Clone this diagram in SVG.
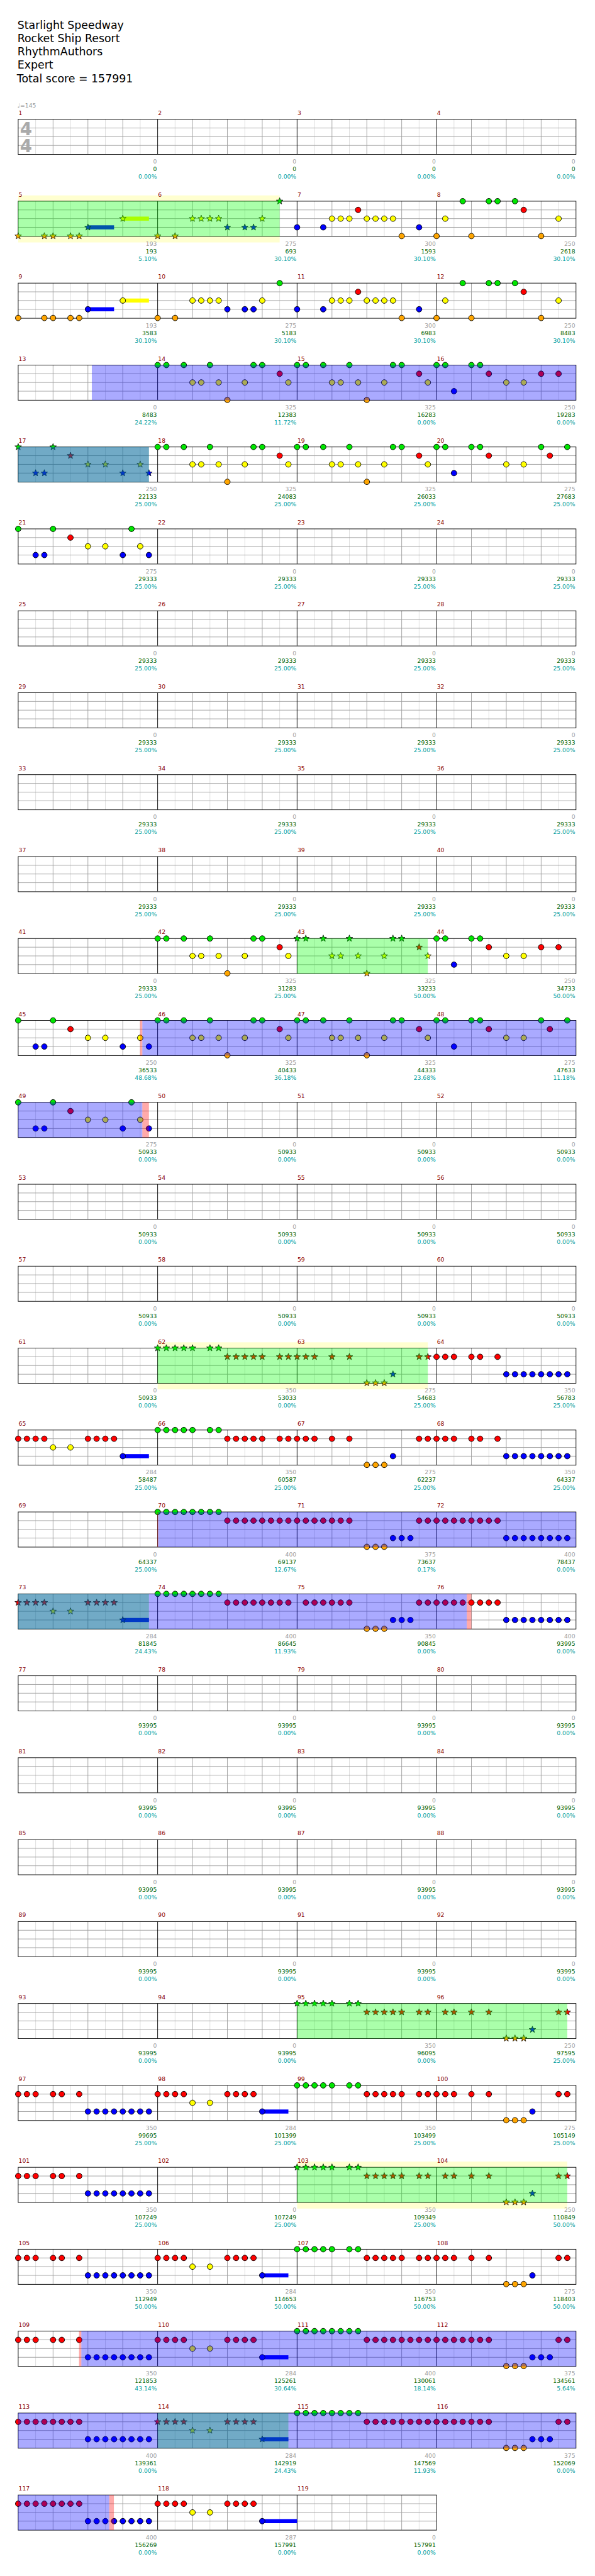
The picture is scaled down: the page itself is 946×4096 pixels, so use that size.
<svg xmlns="http://www.w3.org/2000/svg" xmlns:xlink="http://www.w3.org/1999/xlink" width="946" height="4096" viewBox="0 0 946 4096">
<style>
text{font-family:"DejaVu Sans","Liberation Sans",sans-serif}
.ti{font-size:18.8px;fill:#000}
.mn{font-size:10px;fill:#8b0000}
.st{font-size:10px;text-anchor:end}
.sa{fill:#a0a0a0}.sb{fill:#006400}.sc{fill:#00a0a0}
.tempo{font-size:10px;fill:#999}
.ts{font-size:30px;font-weight:bold;fill:#aaa}
.g{fill:#00e600}.r{fill:#f00}.y{fill:#ff0}.b{fill:#00f}.o{fill:#ffa500}
.og{fill:#0f0;fill-opacity:.333}.ob{fill:#00f;fill-opacity:.333}.or{fill:#f00;fill-opacity:.333}.band{fill:#ffffd0}
.lt{stroke:#dcdcdc;fill:none}.md{stroke:#a0a0a0;fill:none}.bk{stroke:#000;fill:none}
</style>
<defs>
<circle id="n" r="4.8" stroke="#000" stroke-width="1"/>
<path id="s" d="M0-6 1.47-2.02 5.71-1.85 2.38.77 3.53 4.85 0 2.5-3.53 4.85-2.38.77-5.71-1.85-1.47-2.02Z" stroke="#000" stroke-width=".8"/>
<g id="st4"><rect width="960" height="60.5" fill="#fff"/><path class="lt" d="M30 0V60M90 0V60M150 0V60M210 0V60M270 0V60M330 0V60M390 0V60M450 0V60M510 0V60M570 0V60M630 0V60M690 0V60M750 0V60M810 0V60M870 0V60M930 0V60"/><path class="md" d="M60 0V60M120 0V60M180 0V60M300 0V60M360 0V60M420 0V60M540 0V60M600 0V60M660 0V60M780 0V60M840 0V60M900 0V60M0 15H960M0 30H960M0 45H960"/><path class="bk" d="M240 0V60M480 0V60M720 0V60"/><rect width="960" height="60.5" fill="none" stroke="#000"/></g>
<g id="st3"><rect width="720" height="60.5" fill="#fff"/><path class="lt" d="M30 0V60M90 0V60M150 0V60M210 0V60M270 0V60M330 0V60M390 0V60M450 0V60M510 0V60M570 0V60M630 0V60M690 0V60"/><path class="md" d="M60 0V60M120 0V60M180 0V60M300 0V60M360 0V60M420 0V60M540 0V60M600 0V60M660 0V60M0 15H720M0 30H720M0 45H720"/><path class="bk" d="M240 0V60M480 0V60"/><rect width="720" height="60.5" fill="none" stroke="#000"/></g>

<g id="c5"><rect class="b" x="120" y="41.5" width="45" height="7"/><rect class="y" x="180" y="26.5" width="45" height="7"/><use href="#n" class="o" y="60"/><use href="#n" class="o" x="45" y="60"/><use href="#n" class="o" x="60" y="60"/><use href="#n" class="o" x="90" y="60"/><use href="#n" class="o" x="105" y="60"/><use href="#n" class="b" x="120" y="45"/><use href="#n" class="y" x="180" y="30"/></g>
<g id="s5"><rect class="b" x="120" y="41.5" width="45" height="7"/><rect class="y" x="180" y="26.5" width="45" height="7"/><use href="#s" class="o" y="60"/><use href="#s" class="o" x="45" y="60"/><use href="#s" class="o" x="60" y="60"/><use href="#s" class="o" x="90" y="60"/><use href="#s" class="o" x="105" y="60"/><use href="#s" class="b" x="120" y="45"/><use href="#s" class="y" x="180" y="30"/></g>
<g id="c6"><use href="#n" class="o" y="60"/><use href="#n" class="o" x="30" y="60"/><use href="#n" class="y" x="60" y="30"/><use href="#n" class="y" x="75" y="30"/><use href="#n" class="y" x="90" y="30"/><use href="#n" class="y" x="105" y="30"/><use href="#n" class="y" x="180" y="30"/><use href="#n" class="b" x="120" y="45"/><use href="#n" class="b" x="150" y="45"/><use href="#n" class="b" x="165" y="45"/><use href="#n" class="g" x="210"/></g>
<g id="s6"><use href="#s" class="o" y="60"/><use href="#s" class="o" x="30" y="60"/><use href="#s" class="y" x="60" y="30"/><use href="#s" class="y" x="75" y="30"/><use href="#s" class="y" x="90" y="30"/><use href="#s" class="y" x="105" y="30"/><use href="#s" class="y" x="180" y="30"/><use href="#s" class="b" x="120" y="45"/><use href="#s" class="b" x="150" y="45"/><use href="#s" class="b" x="165" y="45"/><use href="#s" class="g" x="210"/></g>
<g id="c7"><use href="#n" class="b" y="45"/><use href="#n" class="b" x="45" y="45"/><use href="#n" class="b" x="210" y="45"/><use href="#n" class="y" x="60" y="30"/><use href="#n" class="y" x="75" y="30"/><use href="#n" class="y" x="90" y="30"/><use href="#n" class="y" x="120" y="30"/><use href="#n" class="y" x="135" y="30"/><use href="#n" class="y" x="150" y="30"/><use href="#n" class="y" x="165" y="30"/><use href="#n" class="r" x="105" y="15"/><use href="#n" class="o" x="180" y="60"/></g>
<g id="c8"><use href="#n" class="o" y="60"/><use href="#n" class="o" x="60" y="60"/><use href="#n" class="o" x="180" y="60"/><use href="#n" class="y" x="15" y="30"/><use href="#n" class="y" x="210" y="30"/><use href="#n" class="g" x="45"/><use href="#n" class="g" x="90"/><use href="#n" class="g" x="105"/><use href="#n" class="g" x="135"/><use href="#n" class="r" x="150" y="15"/></g>
<g id="cA"><use href="#n" class="g"/><use href="#n" class="g" x="15"/><use href="#n" class="g" x="45"/><use href="#n" class="g" x="90"/><use href="#n" class="g" x="165"/><use href="#n" class="g" x="180"/><use href="#n" class="y" x="60" y="30"/><use href="#n" class="y" x="75" y="30"/><use href="#n" class="y" x="105" y="30"/><use href="#n" class="y" x="150" y="30"/><use href="#n" class="y" x="225" y="30"/><use href="#n" class="r" x="210" y="15"/><use href="#n" class="o" x="120" y="60"/></g>
<g id="sA"><use href="#s" class="g"/><use href="#s" class="g" x="15"/><use href="#s" class="g" x="45"/><use href="#s" class="g" x="90"/><use href="#s" class="g" x="165"/><use href="#s" class="g" x="180"/><use href="#s" class="y" x="60" y="30"/><use href="#s" class="y" x="75" y="30"/><use href="#s" class="y" x="105" y="30"/><use href="#s" class="y" x="150" y="30"/><use href="#s" class="y" x="225" y="30"/><use href="#s" class="r" x="210" y="15"/><use href="#s" class="o" x="120" y="60"/></g>
<g id="cC"><use href="#n" class="g"/><use href="#n" class="g" x="15"/><use href="#n" class="g" x="60"/><use href="#n" class="g" x="75"/><use href="#n" class="g" x="180"/><use href="#n" class="g" x="225"/><use href="#n" class="r" x="90" y="15"/><use href="#n" class="r" x="195" y="15"/><use href="#n" class="y" x="120" y="30"/><use href="#n" class="y" x="150" y="30"/><use href="#n" class="b" x="30" y="45"/></g>
<g id="cD"><use href="#n" class="g"/><use href="#n" class="g" x="15"/><use href="#n" class="g" x="60"/><use href="#n" class="g" x="75"/><use href="#n" class="r" x="90" y="15"/><use href="#n" class="r" x="180" y="15"/><use href="#n" class="r" x="210" y="15"/><use href="#n" class="y" x="120" y="30"/><use href="#n" class="y" x="150" y="30"/><use href="#n" class="b" x="30" y="45"/></g>
<g id="cE"><use href="#n" class="g"/><use href="#n" class="g" x="60"/><use href="#n" class="r" x="90" y="15"/><use href="#n" class="y" x="120" y="30"/><use href="#n" class="y" x="150" y="30"/><use href="#n" class="y" x="210" y="30"/><use href="#n" class="b" x="30" y="45"/><use href="#n" class="b" x="45" y="45"/><use href="#n" class="b" x="180" y="45"/><use href="#n" class="b" x="225" y="45"/></g>
<g id="cE2"><use href="#cE"/><use href="#n" class="g" x="195"/></g>
<g id="sE"><use href="#s" class="g"/><use href="#s" class="g" x="60"/><use href="#s" class="r" x="90" y="15"/><use href="#s" class="y" x="120" y="30"/><use href="#s" class="y" x="150" y="30"/><use href="#s" class="y" x="210" y="30"/><use href="#s" class="b" x="30" y="45"/><use href="#s" class="b" x="45" y="45"/><use href="#s" class="b" x="180" y="45"/><use href="#s" class="b" x="225" y="45"/></g>
<g id="cF"><use href="#n" class="g"/><use href="#n" class="g" x="15"/><use href="#n" class="g" x="30"/><use href="#n" class="g" x="45"/><use href="#n" class="g" x="60"/><use href="#n" class="g" x="90"/><use href="#n" class="g" x="105"/><use href="#n" class="r" x="120" y="15"/><use href="#n" class="r" x="135" y="15"/><use href="#n" class="r" x="150" y="15"/><use href="#n" class="r" x="165" y="15"/><use href="#n" class="r" x="180" y="15"/><use href="#n" class="r" x="210" y="15"/><use href="#n" class="r" x="225" y="15"/></g>
<g id="sF"><use href="#s" class="g"/><use href="#s" class="g" x="15"/><use href="#s" class="g" x="30"/><use href="#s" class="g" x="45"/><use href="#s" class="g" x="60"/><use href="#s" class="g" x="90"/><use href="#s" class="g" x="105"/><use href="#s" class="r" x="120" y="15"/><use href="#s" class="r" x="135" y="15"/><use href="#s" class="r" x="150" y="15"/><use href="#s" class="r" x="165" y="15"/><use href="#s" class="r" x="180" y="15"/><use href="#s" class="r" x="210" y="15"/><use href="#s" class="r" x="225" y="15"/></g>
<g id="cH"><use href="#n" class="r" y="15"/><use href="#n" class="r" x="15" y="15"/><use href="#n" class="r" x="30" y="15"/><use href="#n" class="r" x="60" y="15"/><use href="#n" class="r" x="90" y="15"/><use href="#n" class="r" x="210" y="15"/><use href="#n" class="r" x="225" y="15"/><use href="#n" class="o" x="120" y="60"/><use href="#n" class="o" x="135" y="60"/><use href="#n" class="o" x="150" y="60"/><use href="#n" class="b" x="165" y="45"/></g>
<g id="sH2"><use href="#s" class="r" x="15" y="15"/><use href="#s" class="r" x="30" y="15"/><use href="#s" class="r" x="60" y="15"/><use href="#s" class="r" x="90" y="15"/><use href="#s" class="r" x="210" y="15"/><use href="#s" class="r" x="225" y="15"/><use href="#s" class="o" x="120" y="60"/><use href="#s" class="o" x="135" y="60"/><use href="#s" class="o" x="150" y="60"/><use href="#s" class="b" x="165" y="45"/></g>
<g id="sH"><use href="#s" class="r" y="15"/><use href="#sH2"/></g>
<g id="cI"><use href="#n" class="r" y="15"/><use href="#n" class="r" x="15" y="15"/><use href="#n" class="r" x="30" y="15"/><use href="#n" class="r" x="60" y="15"/><use href="#n" class="r" x="75" y="15"/><use href="#n" class="r" x="105" y="15"/><use href="#n" class="b" x="120" y="45"/><use href="#n" class="b" x="135" y="45"/><use href="#n" class="b" x="150" y="45"/><use href="#n" class="b" x="165" y="45"/><use href="#n" class="b" x="180" y="45"/><use href="#n" class="b" x="195" y="45"/><use href="#n" class="b" x="210" y="45"/><use href="#n" class="b" x="225" y="45"/></g>
<g id="cJb"><use href="#n" class="r" y="15"/><use href="#n" class="r" x="15" y="15"/><use href="#n" class="r" x="30" y="15"/><use href="#n" class="r" x="45" y="15"/><use href="#n" class="r" x="120" y="15"/><use href="#n" class="r" x="135" y="15"/><use href="#n" class="r" x="150" y="15"/><use href="#n" class="r" x="165" y="15"/><use href="#n" class="y" x="60" y="30"/><use href="#n" class="y" x="90" y="30"/></g>
<g id="cJ"><use href="#cJb"/><rect class="b" x="180" y="41.5" width="45" height="7"/><use href="#n" class="b" x="180" y="45"/></g>
<g id="cJ2"><use href="#cJb"/><rect class="b" x="180" y="41.5" width="60" height="7"/><use href="#n" class="b" x="180" y="45"/></g>
<g id="sJ"><use href="#s" class="r" y="15"/><use href="#s" class="r" x="15" y="15"/><use href="#s" class="r" x="30" y="15"/><use href="#s" class="r" x="45" y="15"/><use href="#s" class="r" x="120" y="15"/><use href="#s" class="r" x="135" y="15"/><use href="#s" class="r" x="150" y="15"/><use href="#s" class="r" x="165" y="15"/><use href="#s" class="y" x="60" y="30"/><use href="#s" class="y" x="90" y="30"/><rect class="b" x="180" y="41.5" width="45" height="7"/><use href="#s" class="b" x="180" y="45"/></g>
<g id="cK"><use href="#n" class="g"/><use href="#n" class="g" x="15"/><use href="#n" class="g" x="30"/><use href="#n" class="g" x="45"/><use href="#n" class="g" x="60"/><use href="#n" class="g" x="75"/><use href="#n" class="g" x="90"/><use href="#n" class="g" x="105"/><use href="#n" class="r" x="120" y="15"/><use href="#n" class="r" x="135" y="15"/><use href="#n" class="r" x="150" y="15"/><use href="#n" class="r" x="165" y="15"/><use href="#n" class="r" x="180" y="15"/><use href="#n" class="r" x="195" y="15"/><use href="#n" class="r" x="210" y="15"/><use href="#n" class="r" x="225" y="15"/></g>
<g id="cN2"><use href="#n" class="r" x="15" y="15"/><use href="#n" class="r" x="30" y="15"/><use href="#n" class="r" x="45" y="15"/><use href="#n" class="r" x="60" y="15"/><use href="#n" class="r" x="75" y="15"/><use href="#n" class="r" x="90" y="15"/><use href="#n" class="r" x="210" y="15"/><use href="#n" class="r" x="225" y="15"/><use href="#n" class="o" x="120" y="60"/><use href="#n" class="o" x="135" y="60"/><use href="#n" class="o" x="150" y="60"/><use href="#n" class="b" x="165" y="45"/><use href="#n" class="b" x="180" y="45"/><use href="#n" class="b" x="195" y="45"/></g>
<g id="cN"><use href="#n" class="r" y="15"/><use href="#cN2"/></g>
<g id="cM"><use href="#n" class="r" y="15"/><use href="#n" class="r" x="15" y="15"/><use href="#n" class="r" x="30" y="15"/><use href="#n" class="r" x="45" y="15"/><use href="#n" class="r" x="60" y="15"/><use href="#n" class="r" x="75" y="15"/><use href="#n" class="r" x="90" y="15"/><use href="#n" class="r" x="105" y="15"/><use href="#n" class="b" x="120" y="45"/><use href="#n" class="b" x="135" y="45"/><use href="#n" class="b" x="150" y="45"/><use href="#n" class="b" x="165" y="45"/><use href="#n" class="b" x="180" y="45"/><use href="#n" class="b" x="195" y="45"/><use href="#n" class="b" x="210" y="45"/><use href="#n" class="b" x="225" y="45"/></g>
</defs>
<rect width="946" height="4096" fill="#fff"/>
<g transform="scale(0.92383)">
<g id="title" class="ti"><text x="30" y="49.3">Starlight Speedway</text><text x="30" y="72.3">Rocket Ship Resort</text><text x="30" y="95.3">RhythmAuthors</text><text x="30" y="118.3">Expert</text><text x="29" y="141.3">Total score = 157991</text></g>

<g id="row1" transform="translate(0,205.3)"><use href="#st4" x="31.3"/>
<text class="tempo" x="30" y="-20">♩=145</text><text class="ts" x="34.5" y="27">4</text><text class="ts" x="34.5" y="57">4</text>
<g class="mn"><text x="32" y="-7.5">1</text><text x="272" y="-7.5">2</text><text x="512" y="-7.5">3</text><text x="752" y="-7.5">4</text></g>
<g class="st"><text class="sa" x="270" y="76.5">0</text><text class="sb" x="270" y="89.5">0</text><text class="sc" x="270" y="102.5">0.00%</text><text class="sa" x="510" y="76.5">0</text><text class="sb" x="510" y="89.5">0</text><text class="sc" x="510" y="102.5">0.00%</text><text class="sa" x="750" y="76.5">0</text><text class="sb" x="750" y="89.5">0</text><text class="sc" x="750" y="102.5">0.00%</text><text class="sa" x="990" y="76.5">0</text><text class="sb" x="990" y="89.5">0</text><text class="sc" x="990" y="102.5">0.00%</text></g></g>

<g id="row2" transform="translate(0,346.3)"><rect class="band" x="31.3" y="-10" width="450" height="81"/><use href="#st4" x="31.3"/>
<use href="#s5" x="31.3"/><use href="#s6" x="271.3"/><use href="#c7" x="511.3"/><use href="#c8" x="751.3"/>
<rect class="og" x="31.3" width="450" height="60.5"/>
<g class="mn"><text x="32" y="-7.5">5</text><text x="272" y="-7.5">6</text><text x="512" y="-7.5">7</text><text x="752" y="-7.5">8</text></g>
<g class="st"><text class="sa" x="270" y="76.5">193</text><text class="sb" x="270" y="89.5">193</text><text class="sc" x="270" y="102.5">5.10%</text><text class="sa" x="510" y="76.5">275</text><text class="sb" x="510" y="89.5">693</text><text class="sc" x="510" y="102.5">30.10%</text><text class="sa" x="750" y="76.5">300</text><text class="sb" x="750" y="89.5">1593</text><text class="sc" x="750" y="102.5">30.10%</text><text class="sa" x="990" y="76.5">250</text><text class="sb" x="990" y="89.5">2618</text><text class="sc" x="990" y="102.5">30.10%</text></g></g>

<g id="row3" transform="translate(0,487.3)"><use href="#st4" x="31.3"/>
<use href="#c5" x="31.3"/><use href="#c6" x="271.3"/><use href="#c7" x="511.3"/><use href="#c8" x="751.3"/>
<g class="mn"><text x="32" y="-7.5">9</text><text x="272" y="-7.5">10</text><text x="512" y="-7.5">11</text><text x="752" y="-7.5">12</text></g>
<g class="st"><text class="sa" x="270" y="76.5">193</text><text class="sb" x="270" y="89.5">3583</text><text class="sc" x="270" y="102.5">30.10%</text><text class="sa" x="510" y="76.5">275</text><text class="sb" x="510" y="89.5">5183</text><text class="sc" x="510" y="102.5">30.10%</text><text class="sa" x="750" y="76.5">300</text><text class="sb" x="750" y="89.5">6983</text><text class="sc" x="750" y="102.5">30.10%</text><text class="sa" x="990" y="76.5">250</text><text class="sb" x="990" y="89.5">8483</text><text class="sc" x="990" y="102.5">30.10%</text></g></g>

<g id="row4" transform="translate(0,628.3)"><use href="#st4" x="31.3"/>
<use href="#cA" x="271.3"/><use href="#cA" x="511.3"/><use href="#cD" x="751.3"/>
<rect class="ob" x="158" width="833.3" height="60.5"/>
<g class="mn"><text x="32" y="-7.5">13</text><text x="272" y="-7.5">14</text><text x="512" y="-7.5">15</text><text x="752" y="-7.5">16</text></g>
<g class="st"><text class="sa" x="270" y="76.5">0</text><text class="sb" x="270" y="89.5">8483</text><text class="sc" x="270" y="102.5">24.22%</text><text class="sa" x="510" y="76.5">325</text><text class="sb" x="510" y="89.5">12383</text><text class="sc" x="510" y="102.5">11.72%</text><text class="sa" x="750" y="76.5">325</text><text class="sb" x="750" y="89.5">16283</text><text class="sc" x="750" y="102.5">0.00%</text><text class="sa" x="990" y="76.5">250</text><text class="sb" x="990" y="89.5">19283</text><text class="sc" x="990" y="102.5">0.00%</text></g></g>

<g id="row5" transform="translate(0,769.3)"><use href="#st4" x="31.3"/>
<use href="#sE" x="31.3"/><use href="#cA" x="271.3"/><use href="#cA" x="511.3"/><use href="#cC" x="751.3"/>
<rect class="og" x="31.3" width="225" height="60.5"/><rect class="ob" x="31.3" width="225" height="60.5"/>
<g class="mn"><text x="32" y="-7.5">17</text><text x="272" y="-7.5">18</text><text x="512" y="-7.5">19</text><text x="752" y="-7.5">20</text></g>
<g class="st"><text class="sa" x="270" y="76.5">250</text><text class="sb" x="270" y="89.5">22133</text><text class="sc" x="270" y="102.5">25.00%</text><text class="sa" x="510" y="76.5">325</text><text class="sb" x="510" y="89.5">24083</text><text class="sc" x="510" y="102.5">25.00%</text><text class="sa" x="750" y="76.5">325</text><text class="sb" x="750" y="89.5">26033</text><text class="sc" x="750" y="102.5">25.00%</text><text class="sa" x="990" y="76.5">275</text><text class="sb" x="990" y="89.5">27683</text><text class="sc" x="990" y="102.5">25.00%</text></g></g>

<g id="row6" transform="translate(0,910.3)"><use href="#st4" x="31.3"/>
<use href="#cE2" x="31.3"/>
<g class="mn"><text x="32" y="-7.5">21</text><text x="272" y="-7.5">22</text><text x="512" y="-7.5">23</text><text x="752" y="-7.5">24</text></g>
<g class="st"><text class="sa" x="270" y="76.5">275</text><text class="sb" x="270" y="89.5">29333</text><text class="sc" x="270" y="102.5">25.00%</text><text class="sa" x="510" y="76.5">0</text><text class="sb" x="510" y="89.5">29333</text><text class="sc" x="510" y="102.5">25.00%</text><text class="sa" x="750" y="76.5">0</text><text class="sb" x="750" y="89.5">29333</text><text class="sc" x="750" y="102.5">25.00%</text><text class="sa" x="990" y="76.5">0</text><text class="sb" x="990" y="89.5">29333</text><text class="sc" x="990" y="102.5">25.00%</text></g></g>

<g id="row7" transform="translate(0,1051.3)"><use href="#st4" x="31.3"/>
<g class="mn"><text x="32" y="-7.5">25</text><text x="272" y="-7.5">26</text><text x="512" y="-7.5">27</text><text x="752" y="-7.5">28</text></g>
<g class="st"><text class="sa" x="270" y="76.5">0</text><text class="sb" x="270" y="89.5">29333</text><text class="sc" x="270" y="102.5">25.00%</text><text class="sa" x="510" y="76.5">0</text><text class="sb" x="510" y="89.5">29333</text><text class="sc" x="510" y="102.5">25.00%</text><text class="sa" x="750" y="76.5">0</text><text class="sb" x="750" y="89.5">29333</text><text class="sc" x="750" y="102.5">25.00%</text><text class="sa" x="990" y="76.5">0</text><text class="sb" x="990" y="89.5">29333</text><text class="sc" x="990" y="102.5">25.00%</text></g></g>

<g id="row8" transform="translate(0,1192.3)"><use href="#st4" x="31.3"/>
<g class="mn"><text x="32" y="-7.5">29</text><text x="272" y="-7.5">30</text><text x="512" y="-7.5">31</text><text x="752" y="-7.5">32</text></g>
<g class="st"><text class="sa" x="270" y="76.5">0</text><text class="sb" x="270" y="89.5">29333</text><text class="sc" x="270" y="102.5">25.00%</text><text class="sa" x="510" y="76.5">0</text><text class="sb" x="510" y="89.5">29333</text><text class="sc" x="510" y="102.5">25.00%</text><text class="sa" x="750" y="76.5">0</text><text class="sb" x="750" y="89.5">29333</text><text class="sc" x="750" y="102.5">25.00%</text><text class="sa" x="990" y="76.5">0</text><text class="sb" x="990" y="89.5">29333</text><text class="sc" x="990" y="102.5">25.00%</text></g></g>

<g id="row9" transform="translate(0,1333.3)"><use href="#st4" x="31.3"/>
<g class="mn"><text x="32" y="-7.5">33</text><text x="272" y="-7.5">34</text><text x="512" y="-7.5">35</text><text x="752" y="-7.5">36</text></g>
<g class="st"><text class="sa" x="270" y="76.5">0</text><text class="sb" x="270" y="89.5">29333</text><text class="sc" x="270" y="102.5">25.00%</text><text class="sa" x="510" y="76.5">0</text><text class="sb" x="510" y="89.5">29333</text><text class="sc" x="510" y="102.5">25.00%</text><text class="sa" x="750" y="76.5">0</text><text class="sb" x="750" y="89.5">29333</text><text class="sc" x="750" y="102.5">25.00%</text><text class="sa" x="990" y="76.5">0</text><text class="sb" x="990" y="89.5">29333</text><text class="sc" x="990" y="102.5">25.00%</text></g></g>

<g id="row10" transform="translate(0,1474.3)"><use href="#st4" x="31.3"/>
<g class="mn"><text x="32" y="-7.5">37</text><text x="272" y="-7.5">38</text><text x="512" y="-7.5">39</text><text x="752" y="-7.5">40</text></g>
<g class="st"><text class="sa" x="270" y="76.5">0</text><text class="sb" x="270" y="89.5">29333</text><text class="sc" x="270" y="102.5">25.00%</text><text class="sa" x="510" y="76.5">0</text><text class="sb" x="510" y="89.5">29333</text><text class="sc" x="510" y="102.5">25.00%</text><text class="sa" x="750" y="76.5">0</text><text class="sb" x="750" y="89.5">29333</text><text class="sc" x="750" y="102.5">25.00%</text><text class="sa" x="990" y="76.5">0</text><text class="sb" x="990" y="89.5">29333</text><text class="sc" x="990" y="102.5">25.00%</text></g></g>

<g id="row11" transform="translate(0,1615.3)"><use href="#st4" x="31.3"/>
<use href="#cA" x="271.3"/><use href="#sA" x="511.3"/><use href="#cD" x="751.3"/>
<rect class="og" x="511.3" width="225" height="60.5"/>
<g class="mn"><text x="32" y="-7.5">41</text><text x="272" y="-7.5">42</text><text x="512" y="-7.5">43</text><text x="752" y="-7.5">44</text></g>
<g class="st"><text class="sa" x="270" y="76.5">0</text><text class="sb" x="270" y="89.5">29333</text><text class="sc" x="270" y="102.5">25.00%</text><text class="sa" x="510" y="76.5">325</text><text class="sb" x="510" y="89.5">31283</text><text class="sc" x="510" y="102.5">25.00%</text><text class="sa" x="750" y="76.5">325</text><text class="sb" x="750" y="89.5">33233</text><text class="sc" x="750" y="102.5">50.00%</text><text class="sa" x="990" y="76.5">250</text><text class="sb" x="990" y="89.5">34733</text><text class="sc" x="990" y="102.5">50.00%</text></g></g>

<g id="row12" transform="translate(0,1756.3)"><use href="#st4" x="31.3"/>
<use href="#cE" x="31.3"/><use href="#cA" x="271.3"/><use href="#cA" x="511.3"/><use href="#cC" x="751.3"/>
<rect class="or" x="241" width="4" height="60.5"/><rect class="ob" x="245" width="746.3" height="60.5"/>
<g class="mn"><text x="32" y="-7.5">45</text><text x="272" y="-7.5">46</text><text x="512" y="-7.5">47</text><text x="752" y="-7.5">48</text></g>
<g class="st"><text class="sa" x="270" y="76.5">250</text><text class="sb" x="270" y="89.5">36533</text><text class="sc" x="270" y="102.5">48.68%</text><text class="sa" x="510" y="76.5">325</text><text class="sb" x="510" y="89.5">40433</text><text class="sc" x="510" y="102.5">36.18%</text><text class="sa" x="750" y="76.5">325</text><text class="sb" x="750" y="89.5">44333</text><text class="sc" x="750" y="102.5">23.68%</text><text class="sa" x="990" y="76.5">275</text><text class="sb" x="990" y="89.5">47633</text><text class="sc" x="990" y="102.5">11.18%</text></g></g>

<g id="row13" transform="translate(0,1897.3)"><use href="#st4" x="31.3"/>
<use href="#cE2" x="31.3"/>
<rect class="ob" x="31.3" width="213.7" height="60.5"/><rect class="or" x="245" width="11.3" height="60.5"/>
<g class="mn"><text x="32" y="-7.5">49</text><text x="272" y="-7.5">50</text><text x="512" y="-7.5">51</text><text x="752" y="-7.5">52</text></g>
<g class="st"><text class="sa" x="270" y="76.5">275</text><text class="sb" x="270" y="89.5">50933</text><text class="sc" x="270" y="102.5">0.00%</text><text class="sa" x="510" y="76.5">0</text><text class="sb" x="510" y="89.5">50933</text><text class="sc" x="510" y="102.5">0.00%</text><text class="sa" x="750" y="76.5">0</text><text class="sb" x="750" y="89.5">50933</text><text class="sc" x="750" y="102.5">0.00%</text><text class="sa" x="990" y="76.5">0</text><text class="sb" x="990" y="89.5">50933</text><text class="sc" x="990" y="102.5">0.00%</text></g></g>

<g id="row14" transform="translate(0,2038.3)"><use href="#st4" x="31.3"/>
<g class="mn"><text x="32" y="-7.5">53</text><text x="272" y="-7.5">54</text><text x="512" y="-7.5">55</text><text x="752" y="-7.5">56</text></g>
<g class="st"><text class="sa" x="270" y="76.5">0</text><text class="sb" x="270" y="89.5">50933</text><text class="sc" x="270" y="102.5">0.00%</text><text class="sa" x="510" y="76.5">0</text><text class="sb" x="510" y="89.5">50933</text><text class="sc" x="510" y="102.5">0.00%</text><text class="sa" x="750" y="76.5">0</text><text class="sb" x="750" y="89.5">50933</text><text class="sc" x="750" y="102.5">0.00%</text><text class="sa" x="990" y="76.5">0</text><text class="sb" x="990" y="89.5">50933</text><text class="sc" x="990" y="102.5">0.00%</text></g></g>

<g id="row15" transform="translate(0,2179.3)"><use href="#st4" x="31.3"/>
<g class="mn"><text x="32" y="-7.5">57</text><text x="272" y="-7.5">58</text><text x="512" y="-7.5">59</text><text x="752" y="-7.5">60</text></g>
<g class="st"><text class="sa" x="270" y="76.5">0</text><text class="sb" x="270" y="89.5">50933</text><text class="sc" x="270" y="102.5">0.00%</text><text class="sa" x="510" y="76.5">0</text><text class="sb" x="510" y="89.5">50933</text><text class="sc" x="510" y="102.5">0.00%</text><text class="sa" x="750" y="76.5">0</text><text class="sb" x="750" y="89.5">50933</text><text class="sc" x="750" y="102.5">0.00%</text><text class="sa" x="990" y="76.5">0</text><text class="sb" x="990" y="89.5">50933</text><text class="sc" x="990" y="102.5">0.00%</text></g></g>

<g id="row16" transform="translate(0,2320.3)"><rect class="band" x="271.3" y="-10" width="465" height="81"/><use href="#st4" x="31.3"/>
<use href="#sF" x="271.3"/><use href="#sH" x="511.3"/><use href="#cI" x="751.3"/>
<rect class="og" x="271.3" width="465" height="60.5"/>
<g class="mn"><text x="32" y="-7.5">61</text><text x="272" y="-7.5">62</text><text x="512" y="-7.5">63</text><text x="752" y="-7.5">64</text></g>
<g class="st"><text class="sa" x="270" y="76.5">0</text><text class="sb" x="270" y="89.5">50933</text><text class="sc" x="270" y="102.5">0.00%</text><text class="sa" x="510" y="76.5">350</text><text class="sb" x="510" y="89.5">53033</text><text class="sc" x="510" y="102.5">0.00%</text><text class="sa" x="750" y="76.5">275</text><text class="sb" x="750" y="89.5">54683</text><text class="sc" x="750" y="102.5">25.00%</text><text class="sa" x="990" y="76.5">350</text><text class="sb" x="990" y="89.5">56783</text><text class="sc" x="990" y="102.5">25.00%</text></g></g>

<g id="row17" transform="translate(0,2461.3)"><use href="#st4" x="31.3"/>
<use href="#cJ" x="31.3"/><use href="#cF" x="271.3"/><use href="#cH" x="511.3"/><use href="#cI" x="751.3"/>
<g class="mn"><text x="32" y="-7.5">65</text><text x="272" y="-7.5">66</text><text x="512" y="-7.5">67</text><text x="752" y="-7.5">68</text></g>
<g class="st"><text class="sa" x="270" y="76.5">284</text><text class="sb" x="270" y="89.5">58487</text><text class="sc" x="270" y="102.5">25.00%</text><text class="sa" x="510" y="76.5">350</text><text class="sb" x="510" y="89.5">60587</text><text class="sc" x="510" y="102.5">25.00%</text><text class="sa" x="750" y="76.5">275</text><text class="sb" x="750" y="89.5">62237</text><text class="sc" x="750" y="102.5">25.00%</text><text class="sa" x="990" y="76.5">350</text><text class="sb" x="990" y="89.5">64337</text><text class="sc" x="990" y="102.5">25.00%</text></g></g>

<g id="row18" transform="translate(0,2602.3)"><use href="#st4" x="31.3"/>
<use href="#cK" x="271.3"/><use href="#cN" x="511.3"/><use href="#cM" x="751.3"/>
<rect class="or" x="270.8" width="1.5" height="60.5"/><rect class="ob" x="272.3" width="719" height="60.5"/>
<g class="mn"><text x="32" y="-7.5">69</text><text x="272" y="-7.5">70</text><text x="512" y="-7.5">71</text><text x="752" y="-7.5">72</text></g>
<g class="st"><text class="sa" x="270" y="76.5">0</text><text class="sb" x="270" y="89.5">64337</text><text class="sc" x="270" y="102.5">25.00%</text><text class="sa" x="510" y="76.5">400</text><text class="sb" x="510" y="89.5">69137</text><text class="sc" x="510" y="102.5">12.67%</text><text class="sa" x="750" y="76.5">375</text><text class="sb" x="750" y="89.5">73637</text><text class="sc" x="750" y="102.5">0.17%</text><text class="sa" x="990" y="76.5">400</text><text class="sb" x="990" y="89.5">78437</text><text class="sc" x="990" y="102.5">0.00%</text></g></g>

<g id="row19" transform="translate(0,2743.3)"><use href="#st4" x="31.3"/>
<use href="#sJ" x="31.3"/><use href="#cK" x="271.3"/><use href="#cN2" x="511.3"/><use href="#cM" x="751.3"/>
<rect class="og" x="31.3" width="225" height="60.5"/><rect class="ob" x="31.3" width="772" height="60.5"/><rect class="or" x="803.3" width="8" height="60.5"/>
<g class="mn"><text x="32" y="-7.5">73</text><text x="272" y="-7.5">74</text><text x="512" y="-7.5">75</text><text x="752" y="-7.5">76</text></g>
<g class="st"><text class="sa" x="270" y="76.5">284</text><text class="sb" x="270" y="89.5">81845</text><text class="sc" x="270" y="102.5">24.43%</text><text class="sa" x="510" y="76.5">400</text><text class="sb" x="510" y="89.5">86645</text><text class="sc" x="510" y="102.5">11.93%</text><text class="sa" x="750" y="76.5">350</text><text class="sb" x="750" y="89.5">90845</text><text class="sc" x="750" y="102.5">0.00%</text><text class="sa" x="990" y="76.5">400</text><text class="sb" x="990" y="89.5">93995</text><text class="sc" x="990" y="102.5">0.00%</text></g></g>

<g id="row20" transform="translate(0,2884.3)"><use href="#st4" x="31.3"/>
<g class="mn"><text x="32" y="-7.5">77</text><text x="272" y="-7.5">78</text><text x="512" y="-7.5">79</text><text x="752" y="-7.5">80</text></g>
<g class="st"><text class="sa" x="270" y="76.5">0</text><text class="sb" x="270" y="89.5">93995</text><text class="sc" x="270" y="102.5">0.00%</text><text class="sa" x="510" y="76.5">0</text><text class="sb" x="510" y="89.5">93995</text><text class="sc" x="510" y="102.5">0.00%</text><text class="sa" x="750" y="76.5">0</text><text class="sb" x="750" y="89.5">93995</text><text class="sc" x="750" y="102.5">0.00%</text><text class="sa" x="990" y="76.5">0</text><text class="sb" x="990" y="89.5">93995</text><text class="sc" x="990" y="102.5">0.00%</text></g></g>

<g id="row21" transform="translate(0,3025.3)"><use href="#st4" x="31.3"/>
<g class="mn"><text x="32" y="-7.5">81</text><text x="272" y="-7.5">82</text><text x="512" y="-7.5">83</text><text x="752" y="-7.5">84</text></g>
<g class="st"><text class="sa" x="270" y="76.5">0</text><text class="sb" x="270" y="89.5">93995</text><text class="sc" x="270" y="102.5">0.00%</text><text class="sa" x="510" y="76.5">0</text><text class="sb" x="510" y="89.5">93995</text><text class="sc" x="510" y="102.5">0.00%</text><text class="sa" x="750" y="76.5">0</text><text class="sb" x="750" y="89.5">93995</text><text class="sc" x="750" y="102.5">0.00%</text><text class="sa" x="990" y="76.5">0</text><text class="sb" x="990" y="89.5">93995</text><text class="sc" x="990" y="102.5">0.00%</text></g></g>

<g id="row22" transform="translate(0,3166.3)"><use href="#st4" x="31.3"/>
<g class="mn"><text x="32" y="-7.5">85</text><text x="272" y="-7.5">86</text><text x="512" y="-7.5">87</text><text x="752" y="-7.5">88</text></g>
<g class="st"><text class="sa" x="270" y="76.5">0</text><text class="sb" x="270" y="89.5">93995</text><text class="sc" x="270" y="102.5">0.00%</text><text class="sa" x="510" y="76.5">0</text><text class="sb" x="510" y="89.5">93995</text><text class="sc" x="510" y="102.5">0.00%</text><text class="sa" x="750" y="76.5">0</text><text class="sb" x="750" y="89.5">93995</text><text class="sc" x="750" y="102.5">0.00%</text><text class="sa" x="990" y="76.5">0</text><text class="sb" x="990" y="89.5">93995</text><text class="sc" x="990" y="102.5">0.00%</text></g></g>

<g id="row23" transform="translate(0,3307.3)"><use href="#st4" x="31.3"/>
<g class="mn"><text x="32" y="-7.5">89</text><text x="272" y="-7.5">90</text><text x="512" y="-7.5">91</text><text x="752" y="-7.5">92</text></g>
<g class="st"><text class="sa" x="270" y="76.5">0</text><text class="sb" x="270" y="89.5">93995</text><text class="sc" x="270" y="102.5">0.00%</text><text class="sa" x="510" y="76.5">0</text><text class="sb" x="510" y="89.5">93995</text><text class="sc" x="510" y="102.5">0.00%</text><text class="sa" x="750" y="76.5">0</text><text class="sb" x="750" y="89.5">93995</text><text class="sc" x="750" y="102.5">0.00%</text><text class="sa" x="990" y="76.5">0</text><text class="sb" x="990" y="89.5">93995</text><text class="sc" x="990" y="102.5">0.00%</text></g></g>

<g id="row24" transform="translate(0,3448.3)"><use href="#st4" x="31.3"/>
<use href="#sF" x="511.3"/><use href="#sH2" x="751.3"/>
<rect class="og" x="511.3" width="465" height="60.5"/>
<g class="mn"><text x="32" y="-7.5">93</text><text x="272" y="-7.5">94</text><text x="512" y="-7.5">95</text><text x="752" y="-7.5">96</text></g>
<g class="st"><text class="sa" x="270" y="76.5">0</text><text class="sb" x="270" y="89.5">93995</text><text class="sc" x="270" y="102.5">0.00%</text><text class="sa" x="510" y="76.5">0</text><text class="sb" x="510" y="89.5">93995</text><text class="sc" x="510" y="102.5">0.00%</text><text class="sa" x="750" y="76.5">350</text><text class="sb" x="750" y="89.5">96095</text><text class="sc" x="750" y="102.5">0.00%</text><text class="sa" x="990" y="76.5">250</text><text class="sb" x="990" y="89.5">97595</text><text class="sc" x="990" y="102.5">25.00%</text></g></g>

<g id="row25" transform="translate(0,3589.3)"><use href="#st4" x="31.3"/>
<use href="#cI" x="31.3"/><use href="#cJ" x="271.3"/><use href="#cF" x="511.3"/><use href="#cH" x="751.3"/>
<g class="mn"><text x="32" y="-7.5">97</text><text x="272" y="-7.5">98</text><text x="512" y="-7.5">99</text><text x="752" y="-7.5">100</text></g>
<g class="st"><text class="sa" x="270" y="76.5">350</text><text class="sb" x="270" y="89.5">99695</text><text class="sc" x="270" y="102.5">25.00%</text><text class="sa" x="510" y="76.5">284</text><text class="sb" x="510" y="89.5">101399</text><text class="sc" x="510" y="102.5">25.00%</text><text class="sa" x="750" y="76.5">350</text><text class="sb" x="750" y="89.5">103499</text><text class="sc" x="750" y="102.5">25.00%</text><text class="sa" x="990" y="76.5">275</text><text class="sb" x="990" y="89.5">105149</text><text class="sc" x="990" y="102.5">25.00%</text></g></g>

<g id="row26" transform="translate(0,3730.3)"><rect class="band" x="511.3" y="-10" width="465" height="81"/><use href="#st4" x="31.3"/>
<use href="#cI" x="31.3"/><use href="#sF" x="511.3"/><use href="#sH2" x="751.3"/>
<rect class="og" x="511.3" width="465" height="60.5"/>
<g class="mn"><text x="32" y="-7.5">101</text><text x="272" y="-7.5">102</text><text x="512" y="-7.5">103</text><text x="752" y="-7.5">104</text></g>
<g class="st"><text class="sa" x="270" y="76.5">350</text><text class="sb" x="270" y="89.5">107249</text><text class="sc" x="270" y="102.5">25.00%</text><text class="sa" x="510" y="76.5">0</text><text class="sb" x="510" y="89.5">107249</text><text class="sc" x="510" y="102.5">25.00%</text><text class="sa" x="750" y="76.5">350</text><text class="sb" x="750" y="89.5">109349</text><text class="sc" x="750" y="102.5">25.00%</text><text class="sa" x="990" y="76.5">250</text><text class="sb" x="990" y="89.5">110849</text><text class="sc" x="990" y="102.5">50.00%</text></g></g>

<g id="row27" transform="translate(0,3871.3)"><use href="#st4" x="31.3"/>
<use href="#cI" x="31.3"/><use href="#cJ" x="271.3"/><use href="#cF" x="511.3"/><use href="#cH" x="751.3"/>
<g class="mn"><text x="32" y="-7.5">105</text><text x="272" y="-7.5">106</text><text x="512" y="-7.5">107</text><text x="752" y="-7.5">108</text></g>
<g class="st"><text class="sa" x="270" y="76.5">350</text><text class="sb" x="270" y="89.5">112949</text><text class="sc" x="270" y="102.5">50.00%</text><text class="sa" x="510" y="76.5">284</text><text class="sb" x="510" y="89.5">114653</text><text class="sc" x="510" y="102.5">50.00%</text><text class="sa" x="750" y="76.5">350</text><text class="sb" x="750" y="89.5">116753</text><text class="sc" x="750" y="102.5">50.00%</text><text class="sa" x="990" y="76.5">275</text><text class="sb" x="990" y="89.5">118403</text><text class="sc" x="990" y="102.5">50.00%</text></g></g>

<g id="row28" transform="translate(0,4012.3)"><use href="#st4" x="31.3"/>
<use href="#cI" x="31.3"/><use href="#cJ" x="271.3"/><use href="#cK" x="511.3"/><use href="#cN" x="751.3"/>
<rect class="or" x="136" width="4" height="60.5"/><rect class="ob" x="140" width="851.3" height="60.5"/>
<g class="mn"><text x="32" y="-7.5">109</text><text x="272" y="-7.5">110</text><text x="512" y="-7.5">111</text><text x="752" y="-7.5">112</text></g>
<g class="st"><text class="sa" x="270" y="76.5">350</text><text class="sb" x="270" y="89.5">121853</text><text class="sc" x="270" y="102.5">43.14%</text><text class="sa" x="510" y="76.5">284</text><text class="sb" x="510" y="89.5">125261</text><text class="sc" x="510" y="102.5">30.64%</text><text class="sa" x="750" y="76.5">400</text><text class="sb" x="750" y="89.5">130061</text><text class="sc" x="750" y="102.5">18.14%</text><text class="sa" x="990" y="76.5">375</text><text class="sb" x="990" y="89.5">134561</text><text class="sc" x="990" y="102.5">5.64%</text></g></g>

<g id="row29" transform="translate(0,4153.3)"><use href="#st4" x="31.3"/>
<use href="#cM" x="31.3"/><use href="#sJ" x="271.3"/><use href="#cK" x="511.3"/><use href="#cN" x="751.3"/>
<rect class="og" x="271.3" width="225" height="60.5"/><rect class="ob" x="31.3" width="960" height="60.5"/>
<g class="mn"><text x="32" y="-7.5">113</text><text x="272" y="-7.5">114</text><text x="512" y="-7.5">115</text><text x="752" y="-7.5">116</text></g>
<g class="st"><text class="sa" x="270" y="76.5">400</text><text class="sb" x="270" y="89.5">139361</text><text class="sc" x="270" y="102.5">0.00%</text><text class="sa" x="510" y="76.5">284</text><text class="sb" x="510" y="89.5">142919</text><text class="sc" x="510" y="102.5">24.43%</text><text class="sa" x="750" y="76.5">400</text><text class="sb" x="750" y="89.5">147569</text><text class="sc" x="750" y="102.5">11.93%</text><text class="sa" x="990" y="76.5">375</text><text class="sb" x="990" y="89.5">152069</text><text class="sc" x="990" y="102.5">0.00%</text></g></g>

<g id="row30" transform="translate(0,4294.3)"><use href="#st3" x="31.3"/>
<use href="#cM" x="31.3"/><use href="#cJ2" x="271.3"/>
<rect class="ob" x="31.3" width="156.7" height="60.5"/><rect class="or" x="188" width="8" height="60.5"/>
<g class="mn"><text x="32" y="-7.5">117</text><text x="272" y="-7.5">118</text><text x="512" y="-7.5">119</text></g>
<g class="st"><text class="sa" x="270" y="76.5">400</text><text class="sb" x="270" y="89.5">156269</text><text class="sc" x="270" y="102.5">0.00%</text><text class="sa" x="510" y="76.5">287</text><text class="sb" x="510" y="89.5">157991</text><text class="sc" x="510" y="102.5">0.00%</text><text class="sa" x="750" y="76.5">0</text><text class="sb" x="750" y="89.5">157991</text><text class="sc" x="750" y="102.5">0.00%</text></g></g>
</g>
</svg>
